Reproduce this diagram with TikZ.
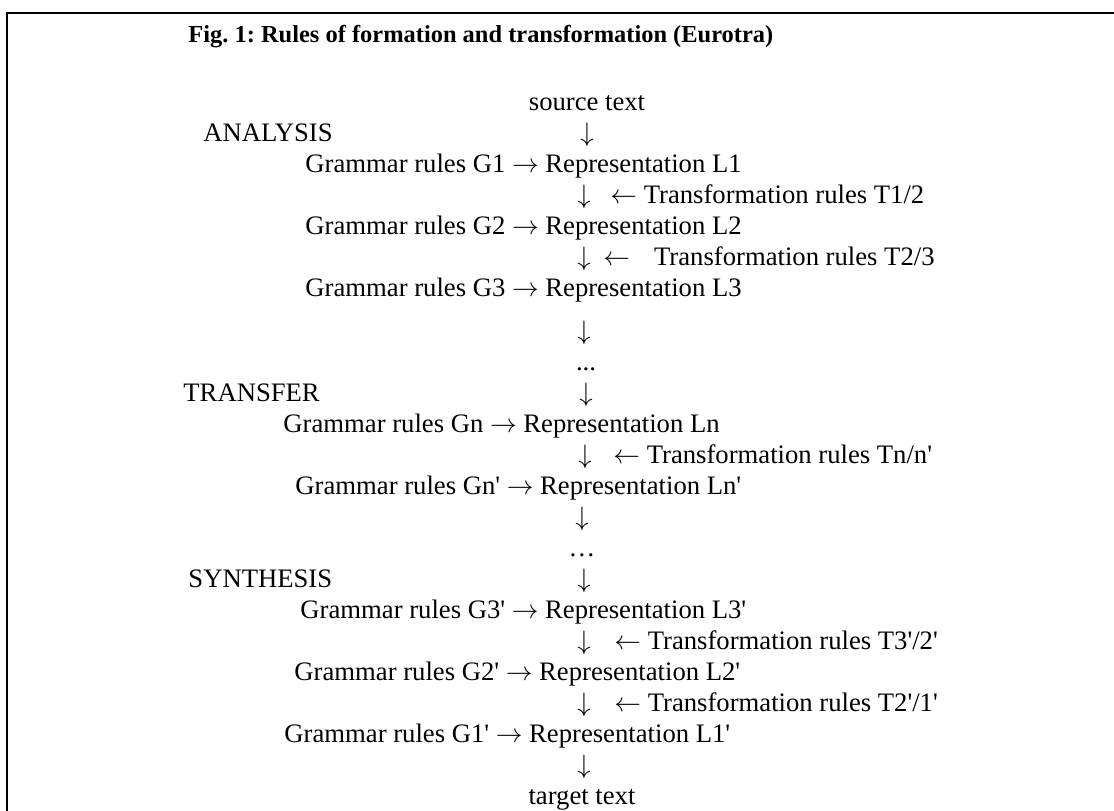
\documentclass[tikz,border=0pt]{standalone}
\usepackage{fontspec}
\setmainfont{Liberation Serif}[Ligatures=TeXOff]
\usetikzlibrary{positioning}
\newcommand{\ra}{$\rightarrow$}
\newcommand{\la}{$\leftarrow$}
\newcommand{\da}{$\downarrow$}
\frenchspacing

\begin{document}
\begin{tikzpicture}[
    x=0.45pt, y=-0.45pt,
    every node/.style={inner sep=0pt, font=\fontsize{12}{14}\selectfont},
    txt/.style={anchor=base west},
    dn/.style={anchor=base},
    ttl/.style={anchor=base west, font=\fontsize{11}{13}\selectfont\bfseries},
    frame/.style={draw=black, line width=1pt}
]
\useasboundingbox (0,0) rectangle (1114,810);
\clip (0,0) rectangle (1114,810);
% frame
\draw[frame] (7,830) -- (7,13) -- (1130,13);

% title
\node[ttl] (title) at (188,42) {Fig. 1: Rules of formation and transformation (Eurotra)};

% analysis
\node[dn] (src) at (587,110) {source text};
\node[txt] (analysis) at (203,141) {ANALYSIS};
\node[dn] (d1) at (587,141) {\da};
\node[txt] (g1) at (305,172) {Grammar rules G1 \ra{} Representation L1};
\node[dn] (d2) at (584,203) {\da};
\node[txt] (t12) at (610,203) {\la{} Transformation rules T1/2};
\node[txt] (g2) at (305,234) {Grammar rules G2 \ra{} Representation L2};
\node[dn] (d3) at (584,265) {\da};
\node[txt] (t23) at (603,265) {\la\hspace{0.9em}Transformation rules T2/3};
\node[txt] (g3) at (305,296) {Grammar rules G3 \ra{} Representation L3};
\node[dn] (d4) at (584,339) {\da};
\node[dn] (dots1) at (586,370) {...};

% transfer
\node[txt] (transfer) at (183,401) {TRANSFER};
\node[dn] (d5) at (586,401) {\da};
\node[txt] (gn) at (283,432) {Grammar rules Gn \ra{} Representation Ln};
\node[dn] (d6) at (585,463) {\da};
\node[txt] (tn) at (613,463) {\la{} Transformation rules Tn/n'};
\node[txt] (gnp) at (295,494) {Grammar rules Gn' \ra{} Representation Ln'};
\node[dn] (d7) at (582,525) {\da};
\node[dn] (dots2) at (582,556) {…};

% synthesis
\node[txt] (synthesis) at (188,587) {SYNTHESIS};
\node[dn] (d8) at (584,587) {\da};
\node[txt] (g3p) at (300,618) {Grammar rules G3' \ra{} Representation L3'};
\node[dn] (d9) at (584,649) {\da};
\node[txt] (t32p) at (614,649) {\la{} Transformation rules T3'/2'};
\node[txt] (g2p) at (294,680) {Grammar rules G2' \ra{} Representation L2'};
\node[dn] (d10) at (584,711) {\da};
\node[txt] (t21p) at (614,711) {\la{} Transformation rules T2'/1'};
\node[txt] (g1p) at (284,742) {Grammar rules G1' \ra{} Representation L1'};
\node[dn] (d11) at (584,773) {\da};
\node[dn] (tgt) at (582,804) {target text};

\end{tikzpicture}
\end{document}
